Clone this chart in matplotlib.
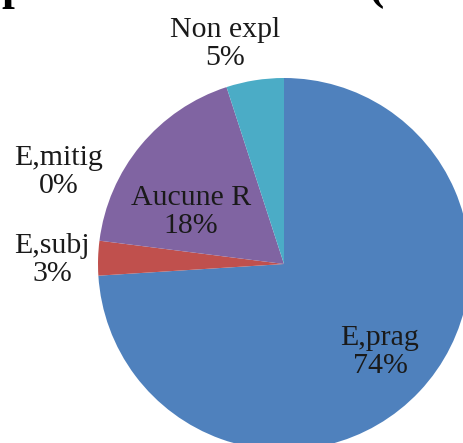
import matplotlib
matplotlib.use("Agg")
import matplotlib.pyplot as plt

categories = ["E,prag", "E,subj", "E,mitig", "Aucune R", "Non expl"]
values = [74, 3, 0, 18, 5]
colors = ["#4F81BD", "#C0504D", "#9BBB59", "#8064A2", "#4BACC6"]

W, H = 463, 443
fig = plt.figure(figsize=(W / 100, H / 100), dpi=100)
ax = fig.add_axes([0, 0, 1, 1])

cx, cy, r = 284, H - 264, 186
ax.pie(values, colors=colors, startangle=90, counterclock=False,
       center=(cx, cy), radius=r, frame=True,
       wedgeprops=dict(linewidth=0))
ax.set_xlim(0, W)
ax.set_ylim(0, H)
ax.set_aspect("equal")
ax.axis("off")

# label positions (pixels from top-left), layout only
label_pos = {
    "E,prag": (380, 352),
    "E,subj": (52, 260),
    "E,mitig": (59, 172),
    "Aucune R": (191, 212),
    "Non expl": (225, 44),
}
for cat, v in zip(categories, values):
    x, y = label_pos[cat]
    ax.text(x, H - y, f"{cat}\n{v}%", ha="center", va="center",
            fontsize=21.5, family="Liberation Serif", color="#1a1a1a",
            linespacing=1.12)

# cropped title remnants at the very top
ax.text(14, H + 1, "p", ha="center", va="baseline", fontsize=33,
        family="Liberation Serif", fontweight="bold")
ax.text(377, H + 1, "(", ha="center", va="baseline", fontsize=33,
        family="Liberation Serif", fontweight="bold")

fig.savefig("out.png", dpi=100)
